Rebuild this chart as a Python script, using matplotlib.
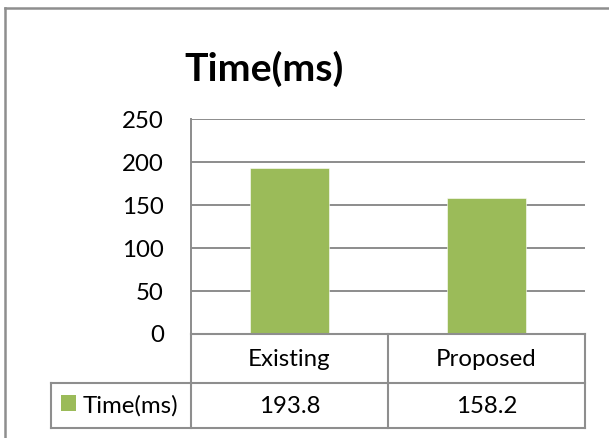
import matplotlib
matplotlib.use("Agg")
import matplotlib.pyplot as plt
from matplotlib.lines import Line2D
from matplotlib.patches import Rectangle

# Chart data
categories = ["Existing", "Proposed"]
series_name = "Time(ms)"
values = [193.8, 158.2]
y_ticks = [0, 50, 100, 150, 200, 250]

BAR_COLOR = "#9BBB59"
GRID_COLOR = "#8C8C8C"
LINE_COLOR = "#8E8E8E"
FONT = "Lato"
TEXT_SIZE = 17.3

W, H, DPI = 609, 438, 100
fig = plt.figure(figsize=(W / DPI, H / DPI), dpi=DPI)
fig.patch.set_facecolor("white")

# Plot area in pixel units
px_left, px_right, px_top, px_bottom = 191, 585, 119.3, 334
ax = fig.add_axes([px_left / W, 1 - px_bottom / H,
                   (px_right - px_left) / W, (px_bottom - px_top) / H])

x = list(range(len(categories)))
ax.bar(x, values, width=0.40, color=BAR_COLOR, zorder=3,
       edgecolor="white", linewidth=0.4)
ax.set_xlim(-0.5, len(categories) - 0.5)
ax.set_ylim(y_ticks[0], y_ticks[-1])
ax.set_yticks(y_ticks)
ax.set_yticklabels([str(t) for t in y_ticks], fontfamily=FONT, fontsize=TEXT_SIZE)
ax.set_xticks([])
ax.tick_params(axis="y", length=0, pad=19.5)
for t in ax.get_yticklabels():
    t.set_color("black")
ax.grid(axis="y", color=GRID_COLOR, linewidth=1.4, zorder=0)
for side in ["top", "right", "bottom"]:
    ax.spines[side].set_visible(False)
ax.spines["left"].set_color(GRID_COLOR)
ax.spines["left"].set_linewidth(1.4)

# Overlay in pixel coordinates for the outer frame and data table
ov = fig.add_axes([0, 0, 1, 1], zorder=5)
ov.set_xlim(0, W)
ov.set_ylim(H, 0)
ov.axis("off")
ov.patch.set_alpha(0)

def hline(x0, x1, y, lw=1.5, c=LINE_COLOR):
    ov.add_line(Line2D([x0, x1], [y, y], color=c, linewidth=lw))

def vline(x0, y0, y1, lw=1.5, c=LINE_COLOR):
    ov.add_line(Line2D([x0, x0], [y0, y1], color=c, linewidth=lw))

# Chart frame
hline(5, W, 8, lw=1.8)
vline(5, 8, H, lw=1.8)

# Title
ov.text(264, 69, series_name, fontfamily=FONT, fontweight="bold",
        fontsize=28.3, ha="center", va="center", color="black")

# Column boundaries derived from the category axis
fig.canvas.draw()
to_px = lambda xv: ax.transData.transform((xv, 0))[0]
col_edges = [to_px(i - 0.5) for i in range(len(categories) + 1)]
col_centers = [to_px(i) for i in x]

row1_top, row2_top, table_bottom = 334, 383, 427.5
legend_left = 51

# Category header row and value row
for e in col_edges:
    vline(e, row1_top, table_bottom)
hline(col_edges[0], col_edges[-1], row1_top)
hline(legend_left, col_edges[-1], row2_top)
hline(legend_left, col_edges[-1], table_bottom)
vline(legend_left, row2_top, table_bottom)

for cx, cat in zip(col_centers, categories):
    ov.text(cx, (row1_top + row2_top) / 2 + 1, cat, fontfamily=FONT,
            fontsize=TEXT_SIZE, ha="center", va="center", color="black")
for cx, v in zip(col_centers, values):
    ov.text(cx, (row2_top + table_bottom) / 2 + 1, f"{v:.1f}", fontfamily=FONT,
            fontsize=TEXT_SIZE, ha="center", va="center", color="black")

# Legend key cell
ov.add_patch(Rectangle((61, 395), 15, 15.5, facecolor=BAR_COLOR, edgecolor="none"))
ov.text(83, (row2_top + table_bottom) / 2 + 1, series_name, fontfamily=FONT,
        fontsize=TEXT_SIZE, ha="left", va="center", color="black")

fig.savefig("out.png", dpi=DPI, facecolor="white")
